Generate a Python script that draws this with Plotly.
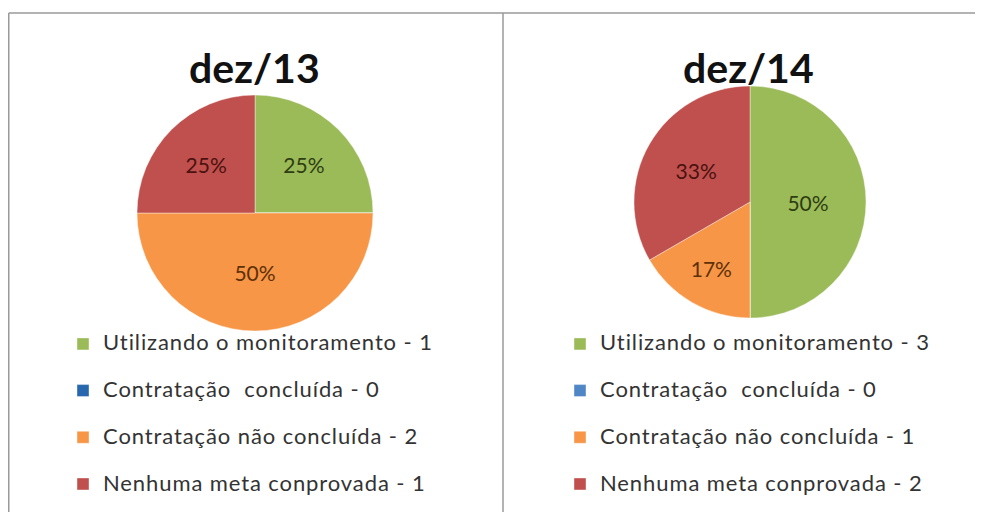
import plotly.graph_objects as go

# the page is rendered with an 8px body margin; all positions below are page pixels
W, H = 983, 512
OFF = 8

categories = ["Utilizando o monitoramento", "Contratação  concluída",
              "Contratação não concluída", "Nenhuma meta conprovada"]
titles = ["dez/13", "dez/14"]
values_dez13 = [1, 0, 2, 1]
values_dez14 = [3, 0, 1, 2]

colors_dez13 = ["#9BBB59", "#2767AE", "#F79646", "#C0504D"]
colors_dez14 = ["#9BBB59", "#4F86C6", "#F79646", "#C0504D"]
label_colors = ["#2E3D12", "#1a2f55", "#5E3008", "#4A1210"]

FONT = "Lato, Open Sans, sans-serif"
LEG_FONT = 16.8    # controls row pitch
TXT_FONT = 22      # actual glyph size


def px_x(p):
    return (p - OFF) / W


def px_y(p):
    return 1 - (p - OFF) / H


def legend_labels(values, tail):
    return [f'<span style="font-size:{TXT_FONT}px;letter-spacing:0.9px">{c} - {v}</span><br>{tail}'
            for c, v in zip(categories, values)]


def pie(values, colors, legend, tail, cx, cy, r):
    return go.Pie(
        labels=legend_labels(values, tail),
        values=values,
        sort=False,
        direction="clockwise",
        rotation=0,
        marker=dict(colors=colors, line=dict(color="rgba(255,255,255,0.5)", width=0.8)),
        texttemplate="%{percent:.0%}",
        textposition="inside",
        insidetextorientation="horizontal",
        insidetextfont=dict(family=FONT, size=21, color=label_colors),
        hoverinfo="label+value+percent",
        domain=dict(x=[px_x(cx - r), px_x(cx + r)], y=[px_y(cy + r), px_y(cy - r)]),
        legend=legend,
        showlegend=True,
    )


fig = go.Figure()
fig.add_trace(pie(values_dez13, colors_dez13, "legend", " ", 255, 213, 118))
fig.add_trace(pie(values_dez14, colors_dez14, "legend2", "  ", 750, 202, 116))

leg_common = dict(
    font=dict(family=FONT, size=LEG_FONT, color="#333333"),
    bgcolor="rgba(0,0,0,0)",
    valign="top",
    xanchor="left",
    yanchor="top",
    itemclick=False,
    itemdoubleclick=False,
    tracegroupgap=0,
)

title_font = dict(family=FONT, size=41, color="#111111")

fig.update_layout(
    width=W, height=H,
    autosize=False,
    margin=dict(l=0, r=0, t=0, b=0, autoexpand=False),
    paper_bgcolor="white",
    plot_bgcolor="white",
    legend=dict(x=px_x(63), y=px_y(326.5), **leg_common),
    legend2=dict(x=px_x(560), y=px_y(326.5), **leg_common),
    annotations=[
        dict(text=f"<b>{titles[0]}</b>", x=px_x(255), y=px_y(67), xref="paper", yref="paper",
             showarrow=False, xanchor="center", yanchor="middle", font=title_font),
        dict(text=f"<b>{titles[1]}</b>", x=px_x(748), y=px_y(67), xref="paper", yref="paper",
             showarrow=False, xanchor="center", yanchor="middle", font=title_font),
    ],
    shapes=[
        dict(type="line", xref="paper", yref="paper", x0=px_x(8.75), x1=1, y0=px_y(13), y1=px_y(13),
             line=dict(color="#9a9a9a", width=1.5)),
        dict(type="line", xref="paper", yref="paper", x0=px_x(8.75), x1=px_x(8.75), y0=px_y(13), y1=0,
             line=dict(color="#9a9a9a", width=1.5)),
        dict(type="line", xref="paper", yref="paper", x0=px_x(503), x1=px_x(503), y0=px_y(13), y1=0,
             line=dict(color="#9a9a9a", width=1.5)),
    ],
)

fig.write_html("out.html", config={"responsive": False})
